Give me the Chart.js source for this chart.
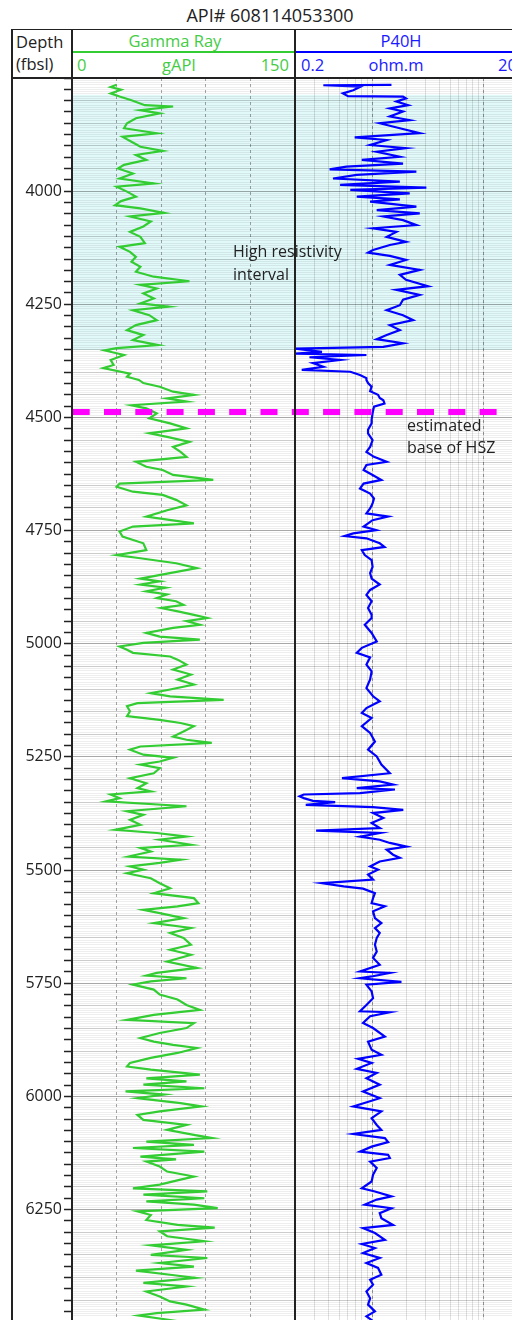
<!DOCTYPE html>
<html>
<head>
<meta charset="utf-8">
<script src="https://cdn.jsdelivr.net/npm/chart.js@4.4.1/dist/chart.umd.min.js"></script>
<style>
  html, body { margin: 0; padding: 0; background: #fff; }
  body { width: 512px; height: 1320px; overflow: hidden; position: relative; font-family: 'Open Sans', sans-serif; color: #222; }
  .t { position: absolute; white-space: nowrap; line-height: 1.362; }
  .ln { position: absolute; background: #222; }
  canvas { position: absolute; }
</style>
</head>
<body>
<div class="t" style="left:0;width:540px;text-align:center;top:2.5px;font-size:18px;">API# 608114053300</div>

<div class="t" style="left:16px;top:31.4px;font-size:16.5px;">Depth</div>
<div class="t" style="left:16px;top:53.4px;font-size:16.5px;">(fbsl)</div>

<div class="t" style="left:72px;width:206px;text-align:center;top:29.7px;font-size:16.5px;color:#44cc44;">Gamma Ray</div>
<div class="ln" style="left:72px;top:51px;width:223px;height:2px;background:#33cc33;"></div>
<div class="t" style="left:77px;top:54.1px;font-size:16.5px;color:#44cc44;">0</div>
<div class="t" style="left:72px;width:214px;text-align:center;top:54.1px;font-size:16.5px;color:#44cc44;">gAPI</div>
<div class="t" style="right:223px;top:54.1px;font-size:16.5px;color:#44cc44;">150</div>

<div class="t" style="left:295px;width:212px;text-align:center;top:29.7px;font-size:16.5px;color:#1a1aff;">P40H</div>
<div class="ln" style="left:295px;top:51px;width:222px;height:2px;background:#0000ff;"></div>
<div class="t" style="left:301px;top:54.1px;font-size:16.5px;color:#1a1aff;">0.2</div>
<div class="t" style="left:295px;width:202px;text-align:center;top:54.1px;font-size:16.5px;color:#1a1aff;">ohm.m</div>
<div class="t" style="left:498px;top:54.1px;font-size:16.5px;color:#1a1aff;">20</div>

<canvas id="grChart" width="283" height="1242" style="left:12px;top:78px"></canvas>
<canvas id="resChart" width="222" height="1242" style="left:295px;top:78px"></canvas>

<!-- frame -->
<div class="ln" style="left:11px;top:28.5px;width:510px;height:1.5px;"></div>
<div class="ln" style="left:11px;top:77.3px;width:510px;height:1.5px;"></div>
<div class="ln" style="left:11px;top:28.5px;width:1.5px;height:1300px;"></div>
<div class="ln" style="left:71.3px;top:28.5px;width:1.5px;height:1300px;"></div>
<div class="ln" style="left:294.3px;top:28.5px;width:1.5px;height:1300px;"></div>

<div class="t" style="left:233px;top:241.4px;font-size:16px;">High resistivity</div>
<div class="t" style="left:233px;top:264.4px;font-size:16px;">interval</div>
<div class="t" style="left:407px;top:414.9px;font-size:16px;">estimated</div>
<div class="t" style="left:407px;top:436.9px;font-size:16px;">base of HSZ</div>

<script>
// depth range shown (ft below sea level)
const depthTop = 3750;
const depthBottom = 6494;
const depthLabels = [4000, 4250, 4500, 4750, 5000, 5250, 5500, 5750, 6000, 6250];

// annotations
const highResTop = 3787;
const highResBase = 4351;
const hszBase = 4488;

// gamma ray track (gAPI)
const grDepth = [3765, 3770, 3776, 3784, 3791, 3799, 3810, 3813, 3821, 3828, 3839, 3850, 3861, 3872, 3880, 3891, 3902, 3911, 3920, 3931,
  3942, 3950, 3961, 3972, 3983, 3990, 4001, 4012, 4022, 4031, 4038, 4048, 4056, 4067, 4078, 4090, 4101, 4115, 4123, 4134,
  4145, 4156, 4167, 4178, 4189, 4199, 4207, 4215, 4226, 4237, 4248, 4255, 4263, 4274, 4285, 4296, 4307, 4318, 4329, 4340,
  4347, 4352, 4362, 4373, 4384, 4391, 4403, 4410, 4417, 4424, 4432, 4443, 4450, 4458, 4465, 4473, 4480, 4491, 4502, 4513,
  4524, 4535, 4543, 4554, 4565, 4576, 4587, 4598, 4609, 4616, 4627, 4638, 4646, 4653, 4664, 4671, 4682, 4694, 4705, 4719,
  4734, 4741, 4752, 4763, 4778, 4793, 4804, 4811, 4822, 4833, 4845, 4856, 4862, 4869, 4876, 4884, 4891, 4899, 4906, 4914,
  4921, 4929, 4936, 4943, 4950, 4958, 4965, 4976, 4984, 4991, 4998, 5006, 5013, 5020, 5028, 5035, 5046, 5057, 5068, 5079,
  5090, 5101, 5109, 5116, 5124, 5131, 5138, 5149, 5160, 5168, 5175, 5182, 5194, 5205, 5212, 5219, 5227, 5234, 5245, 5252,
  5260, 5267, 5275, 5286, 5297, 5308, 5319, 5326, 5333, 5341, 5348, 5359, 5370, 5378, 5389, 5400, 5411, 5418, 5426, 5433,
  5444, 5451, 5459, 5470, 5477, 5484, 5492, 5499, 5507, 5518, 5529, 5540, 5551, 5562, 5573, 5580, 5588, 5595, 5606, 5617,
  5628, 5639, 5650, 5665, 5676, 5687, 5702, 5716, 5727, 5733, 5739, 5746, 5753, 5764, 5775, 5786, 5798, 5809, 5820, 5831,
  5838, 5849, 5860, 5871, 5879, 5886, 5893, 5904, 5915, 5926, 5934, 5941, 5952, 5960, 5967, 5974, 5982, 5989, 5996, 6004,
  6015, 6022, 6033, 6041, 6052, 6063, 6074, 6085, 6092, 6100, 6107, 6114, 6122, 6133, 6139, 6144, 6155, 6166, 6177, 6184,
  6195, 6203, 6210, 6217, 6225, 6232, 6239, 6247, 6254, 6262, 6273, 6284, 6290, 6298, 6309, 6320, 6329, 6339, 6350, 6357,
  6368, 6376, 6385, 6394, 6401, 6412, 6420, 6431, 6442, 6453, 6460, 6471, 6479, 6484, 6494, 6500];
const grValue = [30, 26, 33, 26, 32, 40, 49, 68, 46, 59, 43, 37, 35, 57, 34, 40, 46, 61, 43, 50,
  35, 31, 41, 32, 55, 30, 37, 43, 33, 29, 46, 62, 39, 53, 48, 39, 46, 49, 32, 39,
  43, 40, 46, 43, 55, 79, 46, 57, 48, 55, 46, 65, 41, 52, 57, 43, 37, 48, 41, 58,
  30, 22, 35, 26, 28, 21, 39, 37, 45, 48, 59, 68, 82, 64, 77, 40, 50, 57, 52, 66,
  77, 52, 64, 79, 68, 73, 77, 43, 50, 61, 68, 95, 32, 30, 41, 61, 70, 77, 64, 50,
  82, 41, 32, 34, 48, 50, 30, 46, 70, 84, 64, 46, 59, 46, 63, 50, 64, 57, 70, 75,
  60, 72, 82, 91, 77, 86, 68, 50, 59, 86, 48, 32, 37, 41, 66, 71, 77, 68, 80, 71,
  82, 66, 53, 66, 102, 44, 37, 39, 37, 59, 73, 82, 75, 68, 77, 94, 46, 39, 48, 68,
  59, 46, 59, 55, 39, 50, 44, 53, 26, 32, 23, 77, 37, 48, 39, 46, 29, 57, 77, 59,
  80, 46, 53, 38, 73, 59, 39, 48, 37, 53, 59, 66, 55, 82, 85, 71, 48, 59, 75, 55,
  80, 66, 75, 80, 66, 80, 64, 84, 57, 50, 77, 53, 41, 55, 59, 71, 77, 86, 55, 37,
  82, 77, 59, 46, 55, 68, 84, 71, 53, 39, 37, 53, 86, 50, 77, 48, 89, 36, 62, 44,
  73, 87, 59, 44, 48, 77, 64, 82, 94, 50, 82, 41, 89, 46, 70, 50, 59, 64, 82, 73,
  59, 41, 91, 48, 89, 50, 82, 98, 44, 53, 50, 71, 96, 59, 64, 89, 53, 77, 53, 91,
  59, 82, 43, 66, 83, 48, 77, 50, 59, 66, 77, 89, 57, 45, 66, 55];

// P40H resistivity track (ohm.m)
const resDepth = [3765, 3766, 3769, 3777, 3784, 3790, 3791, 3795, 3802, 3810, 3817, 3824, 3835, 3843, 3850, 3861, 3872, 3881, 3887, 3898,
  3905, 3913, 3924, 3931, 3939, 3946, 3952, 3957, 3964, 3972, 3979, 3986, 3992, 3997, 4005, 4012, 4018, 4023, 4034, 4042,
  4049, 4056, 4064, 4075, 4082, 4090, 4101, 4112, 4119, 4130, 4136, 4143, 4152, 4163, 4174, 4185, 4196, 4210, 4218, 4229,
  4240, 4252, 4263, 4274, 4285, 4296, 4307, 4318, 4327, 4336, 4344, 4348, 4355, 4359, 4362, 4367, 4373, 4380, 4388, 4395,
  4399, 4406, 4413, 4417, 4424, 4432, 4442, 4450, 4457, 4462, 4469, 4476, 4491, 4505, 4513, 4527, 4535, 4550, 4565, 4576,
  4587, 4598, 4605, 4616, 4627, 4638, 4646, 4657, 4668, 4679, 4690, 4701, 4712, 4719, 4727, 4741, 4749, 4756, 4762, 4767,
  4778, 4786, 4793, 4804, 4815, 4830, 4844, 4856, 4869, 4881, 4892, 4906, 4921, 4936, 4943, 4958, 4976, 4995, 5009, 5020,
  5030, 5046, 5061, 5079, 5098, 5116, 5127, 5142, 5153, 5164, 5182, 5197, 5216, 5234, 5249, 5267, 5286, 5297, 5304, 5311,
  5319, 5322, 5330, 5333, 5337, 5341, 5347, 5350, 5356, 5361, 5367, 5374, 5385, 5396, 5407, 5413, 5418, 5426, 5433, 5440,
  5448, 5455, 5466, 5473, 5481, 5492, 5499, 5510, 5521, 5529, 5536, 5541, 5551, 5562, 5573, 5580, 5591, 5606, 5617, 5628,
  5639, 5650, 5665, 5680, 5694, 5709, 5724, 5727, 5735, 5739, 5747, 5753, 5768, 5783, 5798, 5812, 5814, 5823, 5838, 5849,
  5868, 5879, 5897, 5908, 5917, 5926, 5939, 5948, 5960, 5974, 5989, 6004, 6022, 6033, 6048, 6063, 6074, 6083, 6092, 6101,
  6111, 6122, 6129, 6136, 6144, 6158, 6173, 6188, 6203, 6210, 6221, 6228, 6239, 6247, 6258, 6269, 6284, 6291, 6302, 6317,
  6326, 6335, 6346, 6357, 6368, 6379, 6394, 6405, 6416, 6431, 6446, 6460, 6475, 6486, 6494, 6500];
const resValue = [1.48, 0.36, 0.78, 0.67, 0.54, 0.60, 1.88, 2.0, 1.64, 2.09, 1.43, 1.88, 1.43, 2.16, 1.16, 1.76, 2.66, 0.69, 1.34, 0.95,
  2.0, 1.09, 1.76, 0.8, 1.88, 0.58, 0.41, 2.48, 0.72, 0.44, 1.76, 0.51, 3.05, 0.63, 2.16, 0.72, 1.76, 0.95, 2.48, 1.09,
  2.66, 1.25, 1.88, 2.48, 1.01, 1.64, 1.34, 2.0, 1.43, 1.01, 0.91, 1.43, 2.0, 1.43, 2.66, 1.76, 2.0, 3.16, 1.64, 2.66,
  1.88, 1.76, 1.34, 1.88, 2.32, 1.43, 1.76, 1.34, 1.09, 1.88, 1.25, 0.2, 0.35, 0.2, 0.88, 0.27, 0.51, 0.29, 0.36, 0.23,
  0.63, 0.77, 0.88, 0.88, 0.91, 0.98, 0.95, 1.12, 1.16, 1.25, 1.28, 1.03, 1.0, 0.98, 0.98, 0.91, 0.91, 1.0, 0.95, 0.88,
  1.03, 1.34, 0.88, 0.83, 1.0, 1.2, 0.83, 0.77, 0.95, 1.03, 1.0, 0.95, 0.88, 1.38, 1.0, 0.83, 1.08, 0.67, 0.56, 0.88,
  1.16, 1.28, 0.8, 0.85, 0.98, 1.0, 0.95, 0.98, 1.16, 0.95, 0.88, 0.98, 0.91, 0.98, 0.98, 0.85, 0.98, 1.09, 0.8, 0.72,
  0.95, 0.88, 0.98, 0.95, 0.88, 1.01, 1.16, 0.88, 0.8, 0.98, 0.8, 0.95, 1.05, 0.91, 1.09, 1.2, 1.43, 0.53, 1.16, 1.53,
  0.72, 1.59, 0.77, 0.24, 0.22, 0.24, 0.29, 0.46, 0.25, 1.01, 1.89, 1.01, 1.25, 0.98, 1.16, 0.31, 1.16, 0.77, 1.16, 1.43,
  2.02, 1.34, 1.53, 1.76, 1.16, 0.95, 1.12, 0.91, 1.01, 0.35, 0.55, 0.82, 1.05, 1.01, 0.98, 1.29, 1.01, 1.05, 1.2, 1.05,
  1.16, 1.09, 1.05, 1.09, 1.01, 1.16, 0.77, 1.43, 0.98, 0.77, 1.82, 0.88, 0.98, 1.01, 0.88, 0.77, 1.43, 0.95, 0.82, 1.01,
  1.29, 0.91, 0.98, 1.2, 0.74, 0.98, 0.72, 1.09, 0.88, 1.16, 0.82, 1.16, 0.67, 1.2, 0.98, 1.09, 1.2, 0.67, 1.29, 1.38,
  0.98, 0.77, 1.38, 1.43, 0.95, 1.09, 1.01, 0.98, 0.8, 1.05, 1.48, 1.09, 0.85, 1.48, 1.16, 1.2, 1.53, 0.82, 1.05, 1.29,
  0.8, 1.05, 0.82, 1.16, 0.88, 1.12, 1.2, 0.95, 1.01, 0.88, 0.95, 0.91, 1.05, 0.88, 0.98, 0.95];

// vertical grid of the log track
const resGridValues = [0.2, 0.3, 0.4, 0.5, 0.6, 0.7, 0.8, 0.9, 1, 2, 3, 4, 5, 6, 7, 8, 9, 10, 20];
const resMajorGrid = [1, 10];

const gammaColor = '#33cc33';
const resColor = '#0000ff';

function depthGridColor(ctx) {
  const v = ctx.tick.value;
  if (v % 250 === 0) return 'rgba(0,0,0,0.34)';
  if (v % 50 === 0) return 'rgba(0,0,0,0.2)';
  return 'rgba(0,0,0,0.065)';
}

// shading of the high resistivity interval + dashed base of HSZ
const logOverlay = {
  id: 'logOverlay',
  beforeDraw(chart) {
    const { ctx, chartArea: a, scales: { y } } = chart;
    const y1 = y.getPixelForValue(highResTop);
    const y2 = y.getPixelForValue(highResBase);
    ctx.save();
    ctx.fillStyle = '#e2f9f9';
    ctx.fillRect(a.left, y1, a.right - a.left, y2 - y1);
    ctx.restore();
  },
  afterDatasetsDraw(chart, args, opts) {
    const { ctx, chartArea: a, scales: { y } } = chart;
    const yy = y.getPixelForValue(hszBase);
    ctx.save();
    ctx.strokeStyle = '#ff00ff';
    ctx.lineWidth = 6;
    ctx.setLineDash([17, 14.3]);
    ctx.lineDashOffset = opts.dashOffset || 0;
    ctx.beginPath();
    ctx.moveTo(a.left + (opts.start || 0), yy);
    ctx.lineTo(opts.end != null ? a.left + opts.end : a.right, yy);
    ctx.stroke();
    ctx.restore();
  }
};

const noPad = s => { s.paddingLeft = 0; s.paddingRight = 0; s.paddingTop = 0; s.paddingBottom = 0; };

const depthAxis = (showLabels) => ({
  type: 'linear',
  reverse: true,
  min: depthTop,
  max: depthBottom,
  position: 'left',
  afterFit: s => { s.width = showLabels ? 60 : 0; noPad(s); },
  ticks: {
    display: showLabels,
    stepSize: 5,
    autoSkip: false,
    padding: 2,
    color: '#222',
    font: { family: 'Open Sans', size: 16 },
    callback: v => depthLabels.includes(v) ? String(v) : ''
  },
  grid: {
    color: depthGridColor,
    lineWidth: 1,
    drawTicks: showLabels,
    tickLength: 8,
    tickWidth: 1.5,
    tickColor: ctx => ctx.tick.value % 25 === 0 ? '#222' : 'rgba(0,0,0,0)'
  },
  border: { display: false }
});

const baseOptions = {
  responsive: false,
  animation: false,
  events: [],
  layout: { padding: 0 }
};

new Chart(document.getElementById('grChart'), {
  type: 'scatter',
  data: {
    datasets: [{
      data: grDepth.map((d, i) => ({ x: grValue[i], y: d })),
      showLine: true,
      borderColor: gammaColor,
      borderWidth: 2.2,
      pointRadius: 0,
      tension: 0
    }]
  },
  options: {
    ...baseOptions,
    plugins: { legend: { display: false }, tooltip: { enabled: false }, logOverlay: { dashOffset: 0, start: 0.7 } },
    scales: {
      x: {
        type: 'linear', position: 'top', min: 0, max: 150,
        afterFit: s => { s.height = 0; noPad(s); },
        ticks: { display: false, stepSize: 30 },
        grid: {
          drawTicks: false,
          color: ctx => (ctx.tick.value > 0 && ctx.tick.value < 150) ? 'rgba(0,0,0,0.35)' : 'rgba(0,0,0,0)'
        },
        border: { display: false, dash: [3, 3] }
      },
      y: depthAxis(true)
    }
  },
  plugins: [logOverlay]
});

new Chart(document.getElementById('resChart'), {
  type: 'scatter',
  data: {
    datasets: [{
      data: resDepth.map((d, i) => ({ x: resValue[i], y: d })),
      showLine: true,
      borderColor: resColor,
      borderWidth: 2.2,
      pointRadius: 0,
      tension: 0
    }]
  },
  options: {
    ...baseOptions,
    plugins: { legend: { display: false }, tooltip: { enabled: false }, logOverlay: { dashOffset: 3.2, start: 0, end: 203 } },
    scales: {
      x: {
        type: 'logarithmic', position: 'top', min: 0.2, max: 20,
        afterBuildTicks: s => { s.ticks = resGridValues.map(v => ({ value: v })); },
        afterFit: s => { s.height = 0; noPad(s); },
        ticks: { display: false, autoSkip: false },
        grid: { drawTicks: false, color: ctx => ctx.tick.value === 0.2 ? 'rgba(0,0,0,0)' : 'rgba(0,0,0,0.12)' },
        border: { display: false }
      },
      x2: {
        type: 'logarithmic', position: 'top', min: 0.2, max: 20,
        afterBuildTicks: s => { s.ticks = resMajorGrid.map(v => ({ value: v })); },
        afterFit: s => { s.height = 0; noPad(s); },
        ticks: { display: false, autoSkip: false },
        grid: { drawTicks: false, color: 'rgba(0,0,0,0.35)' },
        border: { display: false, dash: [3, 3] }
      },
      y: depthAxis(false)
    }
  },
  plugins: [logOverlay]
});
</script>
</body>
</html>
